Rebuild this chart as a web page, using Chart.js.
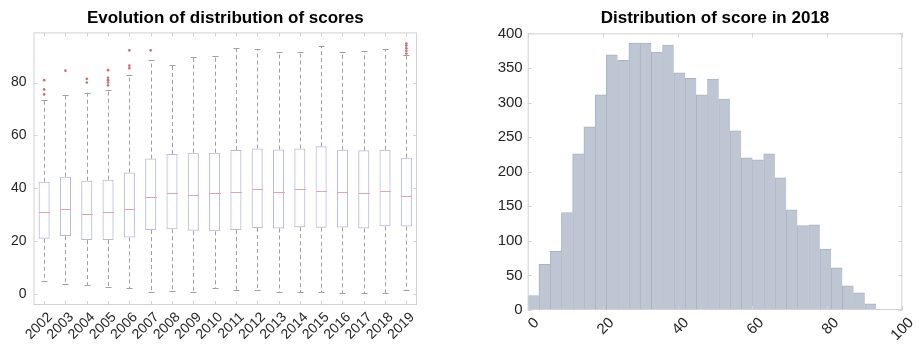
<!DOCTYPE html>
<html>
<head>
<meta charset="utf-8">
<script src="https://cdn.jsdelivr.net/npm/chart.js@4"></script>
<style>
    body { margin: 0; background: #ffffff; }
    #wrap { position: relative; width: 919px; height: 350px; }
    canvas { position: absolute; top: 0; }
</style>
</head>
<body>
<div id="wrap">
    <canvas id="box_chart" width="460" height="350" style="left:0px"></canvas>
    <canvas id="hist_chart" width="459" height="350" style="left:460px"></canvas>
</div>
<script>
// * Box plot data (scores per year)
var years       = ["2002", "2003", "2004", "2005", "2006", "2007", "2008", "2009", "2010",
                   "2011", "2012", "2013", "2014", "2015", "2016", "2017", "2018", "2019"];
var whiskerLow  = [4.8, 3.5, 3.3, 2.4, 2.0, 0.5, 1.1, 0.6, 2.1, 1.4, 1.5, 0.6, 0.6, 0.5, 0.1, 0.1, 0.1, 1.4];
var quartile1   = [20.8, 21.8, 20.3, 20.3, 21.3, 24.1, 24.4, 23.8, 23.6, 24.1, 24.9, 24.7, 25.2, 25.0, 25.1, 24.7, 25.5, 25.4];
var medians     = [31.0, 31.9, 30.2, 31.0, 31.9, 36.5, 38.0, 37.2, 38.2, 38.6, 39.5, 38.7, 39.5, 39.0, 38.5, 38.2, 39.0, 37.1];
var quartile3   = [42.4, 44.3, 42.8, 43.2, 45.9, 51.2, 52.9, 53.4, 53.4, 54.4, 55.0, 54.6, 55.0, 55.9, 54.5, 54.3, 54.5, 51.5];
var whiskerHigh = [73.2, 75.2, 76.2, 77.0, 82.8, 88.5, 86.8, 89.7, 90.2, 92.9, 92.7, 91.4, 91.4, 93.8, 91.7, 91.9, 92.7, 90.3];
var outliers    = [[75.5, 77.4, 80.9], [84.5], [80.0, 81.4], [79.0, 80.0, 80.9, 81.8, 84.7], [85.4, 86.4, 92.2], [92.2],
                   [], [], [], [], [], [], [], [], [], [], [], [91.0, 92.0, 93.0, 94.0, 94.8]];
var boxTicks    = [0, 20, 40, 60, 80];

// * Histogram data (scores in 2018)
var binStarts   = [0, 3, 6, 9, 12, 15, 18, 21, 24, 27, 30, 33, 36, 39, 42, 45, 48, 51, 54, 57, 60, 63, 66, 69, 72, 75, 78, 81, 84, 87, 90];
var binCounts   = [21, 66, 85, 141, 226, 265, 311, 369, 361, 386, 386, 373, 383, 343, 335, 311, 334, 305, 259, 220, 217, 226, 191, 145, 122, 123, 88, 61, 35, 25, 9];
var binWidth    = 3;
var histXTicks  = [0, 20, 40, 60, 80, 100];
var histYTicks  = [0, 50, 100, 150, 200, 250, 300, 350, 400];

var fontFamily = "'Liberation Sans', Arial, sans-serif";
var boxTickFont = { family: fontFamily, size: 14 };
var histTickFont = { family: fontFamily, size: 15 };
var titleFont = { family: fontFamily, size: 17, weight: 'bold' };
var frameColor = '#d2d2d2';

// draws the matlab style frame and inward tick marks
var framePlugin = {
    id: 'frame',
    afterDraw: function(chart) {
        var ctx = chart.ctx;
        var area = chart.chartArea;
        var xs = chart.scales.x;
        var ys = chart.scales.y;
        ctx.save();
        ctx.strokeStyle = frameColor;
        ctx.lineWidth = 1;
        ctx.strokeRect(area.left + 0.5, area.top + 0.5, area.right - area.left - 1, area.bottom - area.top - 1);
        ctx.beginPath();
        for (var i = 0; i < xs.ticks.length; i++) {
            var px = Math.round(xs.getPixelForTick(i)) + 0.5;
            ctx.moveTo(px, area.bottom);
            ctx.lineTo(px, area.bottom - 4);
            ctx.moveTo(px, area.top);
            ctx.lineTo(px, area.top + 4);
        }
        for (var j = 0; j < ys.ticks.length; j++) {
            var py = Math.round(ys.getPixelForTick(j)) + 0.5;
            ctx.moveTo(area.left, py);
            ctx.lineTo(area.left + 4, py);
            ctx.moveTo(area.right, py);
            ctx.lineTo(area.right - 4, py);
        }
        ctx.stroke();
        ctx.restore();
    }
};

// draws whiskers, caps and medians for the box plot
var whiskerPlugin = {
    id: 'whiskers',
    afterDatasetsDraw: function(chart) {
        var ctx = chart.ctx;
        var xs = chart.scales.x;
        var ys = chart.scales.y;
        var boxMeta = chart.getDatasetMeta(0);
        ctx.save();
        for (var i = 0; i < years.length; i++) {
            var px = Math.round(xs.getPixelForValue(i)) + 0.5;
            var half = boxMeta.data[i].width / 2;
            // dashed whiskers
            ctx.strokeStyle = '#a0a0a0';
            ctx.lineWidth = 1;
            ctx.setLineDash([4, 3]);
            ctx.beginPath();
            ctx.moveTo(px, ys.getPixelForValue(quartile3[i]));
            ctx.lineTo(px, ys.getPixelForValue(whiskerHigh[i]));
            ctx.moveTo(px, ys.getPixelForValue(quartile1[i]));
            ctx.lineTo(px, ys.getPixelForValue(whiskerLow[i]));
            ctx.stroke();
            // caps
            ctx.setLineDash([]);
            ctx.beginPath();
            var hi = Math.round(ys.getPixelForValue(whiskerHigh[i])) + 0.5;
            var lo = Math.round(ys.getPixelForValue(whiskerLow[i])) + 0.5;
            ctx.moveTo(px - 3, hi);
            ctx.lineTo(px + 3, hi);
            ctx.moveTo(px - 3, lo);
            ctx.lineTo(px + 3, lo);
            ctx.stroke();
            // median
            ctx.strokeStyle = '#e8a3a3';
            ctx.beginPath();
            var md = Math.round(ys.getPixelForValue(medians[i])) + 0.5;
            ctx.moveTo(px - half, md);
            ctx.lineTo(px + half, md);
            ctx.stroke();
        }
        ctx.restore();
    }
};

// * Box plot chart
var boxData = [];
var outlierPoints = [];
for (var i = 0; i < years.length; i++) {
    boxData.push([quartile1[i], quartile3[i]]);
    for (var k = 0; k < outliers[i].length; k++) {
        outlierPoints.push({ x: years[i], y: outliers[i][k] });
    }
}

var ctxBox = document.getElementById("box_chart").getContext("2d");
var box_chart = new Chart(ctxBox, {
    type: 'bar',
    data: {
        labels: years,
        datasets: [{
            data: boxData,
            backgroundColor: 'rgba(255,255,255,0)',
            borderColor: '#b8b8e4',
            borderWidth: 1,
            borderSkipped: false,
            barPercentage: 0.52,
            categoryPercentage: 1
        },
        {
            type: 'scatter',
            data: outlierPoints,
            pointStyle: 'circle',
            pointRadius: 1.3,
            pointBackgroundColor: '#d66a6a',
            pointBorderWidth: 0
        }]
    },
    options: {
        responsive: false,
        animation: false,
        devicePixelRatio: 1,
        layout: { padding: { left: 0, right: 43, top: 0, bottom: 0 } },
        plugins: {
            legend: { display: false },
            tooltip: { enabled: false },
            title: {
                display: true,
                text: 'Evolution of distribution of scores',
                color: '#000000',
                font: titleFont,
                fullSize: false,
                padding: { top: 8, bottom: 4 }
            }
        },
        scales: {
            x: {
                type: 'category',
                offset: true,
                grid: { display: false, drawTicks: false },
                border: { display: false },
                ticks: { color: '#262626', font: boxTickFont, autoSkip: false, maxRotation: 45, minRotation: 45, padding: 4, labelOffset: 6 },
                afterFit: function(scale) { scale.height = 45; }
            },
            y: {
                min: -4.3,
                max: 99,
                grid: { display: false, drawTicks: false },
                border: { display: false },
                afterBuildTicks: function(scale) { scale.ticks = boxTicks.map(function(v) { return { value: v }; }); },
                ticks: { color: '#262626', font: boxTickFont, padding: 7 },
                afterFit: function(scale) { scale.width = 33.5; }
            }
        }
    },
    plugins: [whiskerPlugin, framePlugin]
});

// * Histogram chart
var histData = [];
for (var b = 0; b < binStarts.length; b++) {
    histData.push({ x: binStarts[b] + binWidth / 2, y: binCounts[b] });
}

var ctxHist = document.getElementById("hist_chart").getContext("2d");
var hist_chart = new Chart(ctxHist, {
    type: 'bar',
    data: {
        datasets: [{
            data: histData,
            backgroundColor: '#bec6d4',
            borderColor: '#aab3c3',
            borderWidth: { left: 1, top: 1, right: 0, bottom: 0 },
            borderSkipped: false,
            barPercentage: 1,
            categoryPercentage: 1
        }]
    },
    options: {
        responsive: false,
        animation: false,
        devicePixelRatio: 1,
        layout: { padding: { left: 0, right: 9, top: 0, bottom: 0 } },
        plugins: {
            legend: { display: false },
            tooltip: { enabled: false },
            title: {
                display: true,
                text: 'Distribution of score in 2018',
                color: '#000000',
                font: titleFont,
                fullSize: false,
                padding: { top: 8, bottom: 5 }
            }
        },
        scales: {
            x: {
                type: 'linear',
                min: 0,
                max: 100,
                offset: false,
                grid: { display: false, drawTicks: false },
                border: { display: false },
                afterBuildTicks: function(scale) { scale.ticks = histXTicks.map(function(v) { return { value: v }; }); },
                ticks: { color: '#262626', font: histTickFont, maxRotation: 45, minRotation: 45, padding: 4, labelOffset: 9 },
                afterFit: function(scale) { scale.height = 40; }
            },
            y: {
                min: 0,
                max: 400,
                grid: { display: false, drawTicks: false },
                border: { display: false },
                afterBuildTicks: function(scale) { scale.ticks = histYTicks.map(function(v) { return { value: v }; }); },
                ticks: { color: '#262626', font: histTickFont, padding: 5 },
                afterFit: function(scale) { scale.width = 67.7; }
            }
        }
    },
    plugins: [framePlugin]
});
</script>
</body>
</html>
